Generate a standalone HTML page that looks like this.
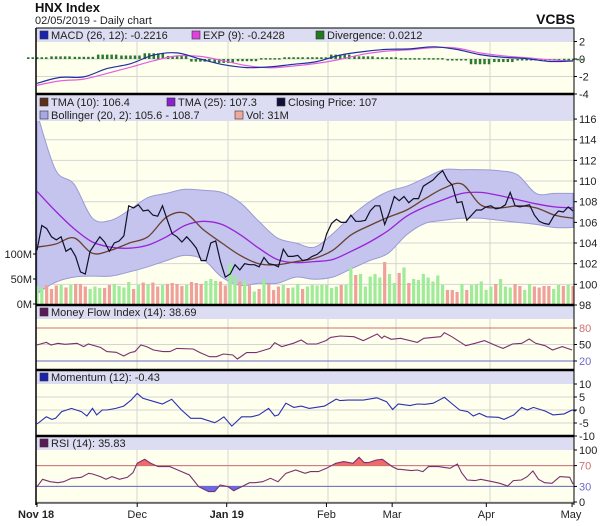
<!DOCTYPE html>
<html><head><meta charset="utf-8">
<style>
html,body{margin:0;padding:0;background:#fff;}
svg{display:block;font-family:"Liberation Sans",sans-serif;}
</style></head>
<body>
<svg id="chart" width="603" height="526" viewBox="0 0 603 526">
<text x="35" y="12" font-size="13" font-weight="bold" fill="#111">HNX Index</text>
<text x="35" y="24" font-size="11" fill="#222">02/05/2019 - Daily chart</text>
<text x="575" y="24" font-size="14" font-weight="bold" fill="#111" text-anchor="end">VCBS</text>
<g id="layer"></g>
</svg>
<script>
// ---------- data ----------
const closePrices = [103.3,105.7,105.4,104.6,104.3,104.6,103.2,103.5,102.7,101.2,
101.0,103.2,103.9,104.6,104.1,103.2,104.0,104.2,104.7,107.6,
107.4,107.7,107.1,107.2,106.7,106.6,107.6,106.2,104.9,104.6,
104.1,104.6,104.1,103.5,102.3,102.3,104.0,104.2,102.2,100.7,
101.0,101.9,101.4,102.0,101.9,101.9,101.7,102.6,102.0,101.9,
101.7,103.4,102.7,102.7,102.8,102.3,102.4,
102.7,102.9,103.3,104.9,105.9,106.3,106.0,106.0,106.7,106.1,
106.1,106.2,107.1,107.6,107.6,105.8,107.0,108.5,108.1,108.5,
107.9,108.3,108.3,109.5,109.8,110.1,110.6,111.0,110.1,109.6,
107.9,108.0,106.2,106.7,107.2,107.2,107.5,107.6,107.3,107.4,
107.7,108.9,107.6,107.5,107.6,107.7,106.7,106.1,105.9,105.8,
106.6,107.1,107.0,107.5,107.1];
const volumesM = [36,33,38,30,37,38,33,38,40,40,35,30,35,32,32,38,40,36,33,44,
30,38,43,40,43,35,38,40,42,40,36,38,44,42,40,46,50,46,45,37,
80,56,45,48,37,25,30,50,40,28,35,38,32,33,40,30,35,
38,37,38,38,32,35,38,38,73,58,60,35,55,60,53,84,60,42,62,73,
42,50,48,60,53,45,57,38,28,28,24,40,28,38,40,45,28,35,40,50,
35,33,40,36,28,40,35,33,36,36,30,38,36,38,36];
const tma10 = [103.6,103.9,104.5,103.0,103.3,104.0,104.6,106.5,106.9,105.3,104.0,102.8,102.0,101.9,102.2,
102.5,103.3,104.8,105.7,106.5,107.2,108.3,109.3,109.7,107.7,107.4,107.6,107.4,106.7,106.4];
const tma25 = [109.0,107.1,105.4,104.1,103.6,103.5,103.8,104.6,105.7,106.1,105.8,104.8,103.5,102.4,102.1,
102.2,102.4,103.2,104.1,105.2,106.6,107.5,108.2,108.8,108.9,108.6,108.2,107.8,107.5,107.4];
const bollUpper = [116.6,111.1,109.7,106.4,106.2,107.2,108.4,108.8,109.2,109.1,108.9,107.9,106.1,104.5,104.0,
103.6,104.9,106.6,108.0,109.0,109.5,110.3,111.1,111.1,111.1,111.0,110.6,108.8,108.8,108.8];
const bollLower = [99.1,100.2,100.7,100.8,100.8,101.2,101.7,102.3,102.8,102.4,100.7,99.9,100.1,100.1,100.7,
100.5,100.7,101.5,102.3,103.0,104.8,105.9,106.2,106.4,106.4,106.2,106.0,105.8,105.5,105.5];
const macdLine = [-2.78,-2.1,-2.05,-1.1,-0.55,0.45,0.7,0.0,-0.65,-0.98,-0.9,-0.6,-0.3,0.45,0.85,1.1,1.15,1.4,1.1,0.5,0.2,0.05,-0.28,-0.22];
const macdSignal = [-3.0,-2.5,-2.3,-1.65,-0.95,-0.2,0.35,0.3,-0.2,-0.75,-1.0,-0.8,-0.5,-0.05,0.55,0.9,1.05,1.3,1.25,0.7,0.35,0.15,-0.1,-0.24];
const macdDivergence = [0.2,0.3,0.25,0.5,0.4,0.65,0.35,-0.3,-0.45,-0.25,0.1,0.2,0.2,0.5,0.3,0.2,0.1,0.1,-0.15,-0.6,-0.35,-0.1,-0.18,0.02];
const mfiDay = [0,2,3,4.5,6,8.6,10,11,13.6,15,17,18.6,20,21,22.3,23.5,25,27,28.5,30,33.5,35,37,38.5,40,42,43,45,47,50,51,52.5,55,56.7,58,60,62,63,65,68,70,73,74,74.5,76,78,81.6,83,86.6,87.4,89,92,94,96,99,100,102,104,105.6,107,109,110.6,112.7,114.8];
const mfiValues = [49.1,53.9,49.1,52.1,50.3,52.1,46.1,50.9,44.8,37,35.8,29.1,35.2,37,49.1,46.1,40,37,37,43,41.8,35.2,27.9,27.9,32.7,30.9,23.6,35.2,35.2,43,53.3,46.1,52.1,58.2,50.9,50.9,57,63,65.5,64.2,57,69.1,61.2,65.5,59.4,61.2,53.9,61.2,64.2,71.5,64.2,47.9,52.1,57,46.1,43,50.9,52.1,60,52.1,47.9,40,46.1,40];
const momDay = [0,2,3.2,4,5.3,7.4,9.5,10.7,11.9,12.8,14,15,16.9,18.6,20.2,21.5,22.7,25.2,26.9,28.9,31,33,35.2,38.1,38.9,40.1,41.8,43.9,46,47.6,49.7,51,51.8,53.4,55.1,56.7,58.4,61.7,64.2,65,66.7,70,72.9,75,76.3,77.5,80,81.6,83.3,85,87.4,89.1,90.7,92.4,93.6,94.9,96.5,99,100.2,102.3,104,105.2,106.5,109,110.7,113.1,114.8,115.6];
const momValues = [-5.4,-2.6,-3.6,-3.2,-0.6,0.6,-0.6,-2.3,0.6,-1.9,0,0,0.6,1.5,3.8,6.4,4.5,3.2,2.3,4.1,0,-3.2,-3.2,-4.9,-4.1,-2.6,-6.2,-2.6,-2.6,-1.9,0.6,-2.3,-1.9,2.6,1.0,1.5,0.6,1.5,4.2,3.6,3.8,3.8,4.7,3.2,0.2,2.3,1.7,2.3,2.2,2.6,4.9,2.3,0,-0.6,-2.3,-1.3,-2.6,-2.8,-3.6,-1.9,1.0,0,1.0,-0.4,-1.9,-1.5,0,-0.43];
const rsiDay = [0,1.2,2.8,4.5,5.7,7.4,9.5,11.1,11.9,13.6,14.8,16.1,17.7,19.4,20.6,21.5,23.1,24.4,26,28.5,30.2,32.7,34.7,36.8,38.1,39.3,40.97,42.2,43.9,45.6,46.8,48.4,50.1,51.7,53.4,55.5,57.5,58.7,60.4,62.1,64.1,65.8,67.8,69.1,70.2,71.1,72.8,74.1,76.2,77.4,77.9,80.3,81.6,82.8,84,86.1,88.6,90.2,91.1,92.3,94,95.2,97.7,99.3,101,102.2,103.9,105.2,106.4,107.6,108.9,110.5,112.2,114.3,115.9,117.6];
const rsiValues = [29.5,43.6,39.1,37.2,39.1,45.5,47.5,55.2,53.9,48.8,43.6,48.8,43.6,47.5,56.4,74.4,82.1,74.4,68,68,61.6,52,29.5,20,20,32.7,29.5,21.8,29.5,37.2,37.2,39.1,45.5,39.1,55.2,61.6,55.2,58.5,58.5,64.8,74.4,77.6,74.4,86,75.7,75.7,80.8,82.1,68,62.9,62.9,60.3,61.6,58.5,68,68,64.8,73.1,56.4,42.3,41.1,43.6,39.1,36,30.8,41.1,42.3,48.8,59.7,43.6,37.2,36,48.8,47.5,34.6,35.8];
const xTicks = ["Nov 18","Dec","Jan 19","Feb","Mar","Apr","May"];
const xTickDays = [0,21.5,40.7,62.1,76.2,96.4,114.8];
const macdTicks = [2,0,-2,-4];
const priceTicks = [116,114,112,110,108,106,104,102,100,98];
const volTicks = [100,50,0];
const mfiTicks = [80,50,20];
const momTicks = [10,5,0,-5,-10];
const rsiTicks = [100,70,30,0];

// ---------- geometry ----------
const L=36, R=574, X0=37, X1=573;
const NS="http://www.w3.org/2000/svg";
const layer=document.getElementById('layer');
function el(tag,attrs,parent){const e=document.createElementNS(NS,tag);for(const k in attrs)e.setAttribute(k,attrs[k]);(parent||layer).appendChild(e);return e;}
const xIdx=(i,n)=>X0+i*(X1-X0)/(n-1);
const xDay=d=>X0+d*(X1-X0)/115;
const yMacd=v=>59-v*8.75;
const yPrice=v=>305-(v-98)*10.33;
const yVol=m=>304-m*0.5;
const yMfi=v=>361-(v-20)*0.55;
const yMom=v=>410-v*2.6;
const yRsi=v=>502-v*0.52;

const panels=[
 {name:'macd-panel',top:28,bot:94,band:14},
 {name:'price-panel',top:94,bot:305,band:27},
 {name:'mfi-panel',top:305,bot:370,band:14},
 {name:'momentum-panel',top:370,bot:436,band:14},
 {name:'rsi-panel',top:436,bot:503,band:14}
];
const gridX=[137,228,328,396,490];
panels.forEach(p=>{
  const g=el('g',{});
  
  
  el('rect',{x:L,y:p.top,width:R-L,height:p.bot-p.top,fill:'#ffffee'},g);
  el('rect',{x:L,y:p.top,width:R-L,height:p.band,fill:'#dcdcf2'},g);
  gridX.forEach(x=>el('line',{x1:x,y1:p.top+p.band,x2:x,y2:p.bot,stroke:'#d4d4d4','stroke-width':1},g));
});
function hgrid(ys,top){ys.forEach(y=>{if(y>top)el('line',{x1:L,y1:y,x2:R,y2:y,stroke:'#d4d4d4','stroke-width':1});});}
function rlabels(ticks,fy,colors){ticks.forEach((t,i)=>{const y=fy(t);el('line',{x1:R,y1:y,x2:R+3,y2:y,stroke:'#000'});const tx=el('text',{x:R+5,y:y+4,'font-size':11,fill:(colors&&colors[i])||'#222'});tx.textContent=t;});}
hgrid(macdTicks.map(yMacd),42);
hgrid(priceTicks.map(yPrice),121);
hgrid(mfiTicks.map(yMfi),319);
hgrid(momTicks.map(yMom),384);
hgrid(rsiTicks.map(yRsi),450);

function poly(xs,ys){return xs.map((x,i)=>(i?'L':'M')+x.toFixed(1)+','+ys[i].toFixed(1)).join('');}
function smooth(xs,ys){
  let d='M'+xs[0].toFixed(1)+','+ys[0].toFixed(1);
  for(let i=0;i<xs.length-1;i++){
    const x0=xs[Math.max(0,i-1)],y0=ys[Math.max(0,i-1)],x1=xs[i],y1=ys[i],x2=xs[i+1],y2=ys[i+1],x3=xs[Math.min(xs.length-1,i+2)],y3=ys[Math.min(xs.length-1,i+2)];
    d+='C'+(x1+(x2-x0)/6).toFixed(1)+','+(y1+(y2-y0)/6).toFixed(1)+' '+(x2-(x3-x1)/6).toFixed(1)+','+(y2-(y3-y1)/6).toFixed(1)+' '+x2.toFixed(1)+','+y2.toFixed(1);
  }
  return d;
}

// ---- MACD ----
macdDivergence.forEach((v,i)=>{
  const x=xIdx(i,macdDivergence.length), y0=yMacd(0), y1=yMacd(v);
  for(let k=-2;k<=2;k++){
    const b=el('rect',{x:x+k*4.5-1,y:Math.min(y0,y1),width:2.5,height:Math.max(1.5,Math.abs(y1-y0)),fill:'#2a7a2a'});
    
    
  }
});
const mx=macdLine.map((v,i)=>xIdx(i,macdLine.length));
let p=el('path',{d:smooth(mx,macdSignal.map(yMacd)),fill:'none',stroke:'#e060e0','stroke-width':1.2});

p=el('path',{d:smooth(mx,macdLine.map(yMacd)),fill:'none',stroke:'#2030a0','stroke-width':1.2});

rlabels(macdTicks,yMacd);

// ---- Price ----
const clip=el('clipPath',{id:'pc'});el('rect',{x:L,y:121,width:R-L,height:184},clip);
const pg=el('g',{'clip-path':'url(#pc)'});
const nS=bollUpper.length;
const bx=bollUpper.map((v,i)=>xIdx(i,nS));
const rbx=bx.slice().reverse(), rlo=bollLower.slice().reverse().map(yPrice);
const bandD=smooth(bx,bollUpper.map(yPrice))+'L'+smooth(rbx,rlo).slice(1)+'Z';
p=el('path',{d:bandD,fill:'#c4c4ee',stroke:'#9a9ad8','stroke-width':1},pg);

const nC=closePrices.length;
volumesM.forEach((m,i)=>{
  const up=i===0?true:closePrices[i]>=closePrices[i-1];
  const x=xIdx(i,nC);
  const b=el('rect',{x:x-1.6,y:yVol(m),width:3.2,height:304-yVol(m),fill:up?'#a0eb9a':'#f0a09a'},pg);
  
  
});
p=el('path',{d:smooth(bx,tma25.map(yPrice)),fill:'none',stroke:'#9a22d8','stroke-width':1.3},pg);

p=el('path',{d:smooth(bx,tma10.map(yPrice)),fill:'none',stroke:'#6a4030','stroke-width':1.3},pg);

p=el('path',{d:poly(closePrices.map((v,i)=>xIdx(i,nC)),closePrices.map(yPrice)),fill:'none',stroke:'#10102a','stroke-width':1.2},pg);

rlabels(priceTicks,yPrice);
volTicks.forEach(t=>{const y=yVol(t);el('line',{x1:L-3,y1:y,x2:L,y2:y,stroke:'#000'});const tx=el('text',{x:L-4,y:y+4,'font-size':11,fill:'#222','text-anchor':'end'});tx.textContent=t+'M';});

// ---- MFI ----
el('line',{x1:L,y1:yMfi(80),x2:R,y2:yMfi(80),stroke:'#d07070'});
el('line',{x1:L,y1:yMfi(20),x2:R,y2:yMfi(20),stroke:'#6a6ac8'});
p=el('path',{d:poly(mfiDay.map(xDay),mfiValues.map(yMfi)),fill:'none',stroke:'#7a3070','stroke-width':1.1});

rlabels(mfiTicks,yMfi,['#d07070','#222','#6a6ac8']);

// ---- Momentum ----
p=el('path',{d:poly(momDay.map(xDay),momValues.map(yMom)),fill:'none',stroke:'#2a30b0','stroke-width':1.1});

rlabels(momTicks,yMom);

// ---- RSI ----
const rx=rsiDay.map(d=>Math.min(X1,xDay(d))), ry=rsiValues.map(yRsi);
const areaTo=y=>poly(rx,ry)+'L'+rx[rx.length-1]+','+y+'L'+rx[0]+','+y+'Z';
const c1=el('clipPath',{id:'rh'});el('rect',{x:L,y:450,width:R-L,height:yRsi(70)-450},c1);
const c2=el('clipPath',{id:'rl'});el('rect',{x:L,y:yRsi(30),width:R-L,height:503-yRsi(30)},c2);
p=el('path',{d:areaTo(yRsi(70)),fill:'#f06a6a','clip-path':'url(#rh)'});

p=el('path',{d:areaTo(yRsi(30)),fill:'#6a6ae8','clip-path':'url(#rl)'});

el('line',{x1:L,y1:yRsi(70),x2:R,y2:yRsi(70),stroke:'#d07070'});
el('line',{x1:L,y1:yRsi(30),x2:R,y2:yRsi(30),stroke:'#6a6ac8'});
p=el('path',{d:poly(rx,ry),fill:'none',stroke:'#7a3070','stroke-width':1.1});

rlabels(rsiTicks,yRsi,['#222','#d07070','#6a6ac8','#222']);

// ---- borders ----
el('line',{x1:L,y1:28,x2:L,y2:505,stroke:'#000','stroke-width':1.5});
el('line',{x1:R,y1:28,x2:R,y2:505,stroke:'#000','stroke-width':1});
el('line',{x1:L,y1:28,x2:R,y2:28,stroke:'#000','stroke-width':1});
[94,305,370,436].forEach(y=>el('line',{x1:L,y1:y,x2:R,y2:y,stroke:'#000','stroke-width':2.5}));
el('line',{x1:L,y1:503,x2:R,y2:503,stroke:'#000','stroke-width':1});

// ---- x axis ----
xTicks.forEach((t,i)=>{
  const x=xDay(xTickDays[i]);
  el('line',{x1:x,y1:503,x2:x,y2:507,stroke:'#000'});
  const bold=(t==='Nov 18'||t==='Jan 19');
  const tx=el('text',{x:i===0?18:(i===xTicks.length-1?571:x),y:518,'font-size':11,'font-weight':bold?'bold':'normal',fill:'#222','text-anchor':i===0?'start':'middle'});
  tx.textContent=t;
  
  
});

// ---- legends ----
const legends=[
 ['MACD (26, 12): -0.2216','#1a22b0',40,39],['EXP (9): -0.2428','#e040e0',192,39],['Divergence: 0.0212','#207a20',316,39],
 ['TMA (10): 106.4','#5a3018',40,106],['TMA (25): 107.3','#8a20d0',167,106],['Closing Price: 107','#10103a',277,106],
 ['Bollinger (20, 2): 105.6 - 108.7','#a8a8e4',40,119],['Vol: 31M','#f0a898',235,119],
 ['Money Flow Index (14): 38.69','#5a1a5a',40,316],['Momentum (12): -0.43','#1a22b0',40,381],['RSI (14): 35.83','#5a1a5a',40,447]
];
legends.forEach(l=>{
  const g=el('g',{});
  
  
  el('rect',{x:l[2],y:l[3]-8,width:8,height:8,fill:l[1],stroke:'#333','stroke-width':0.6},g);
  const tx=el('text',{x:l[2]+11,y:l[3],'font-size':11,fill:'#222'},g);
  tx.textContent=l[0];
});
</script>
</body></html>
